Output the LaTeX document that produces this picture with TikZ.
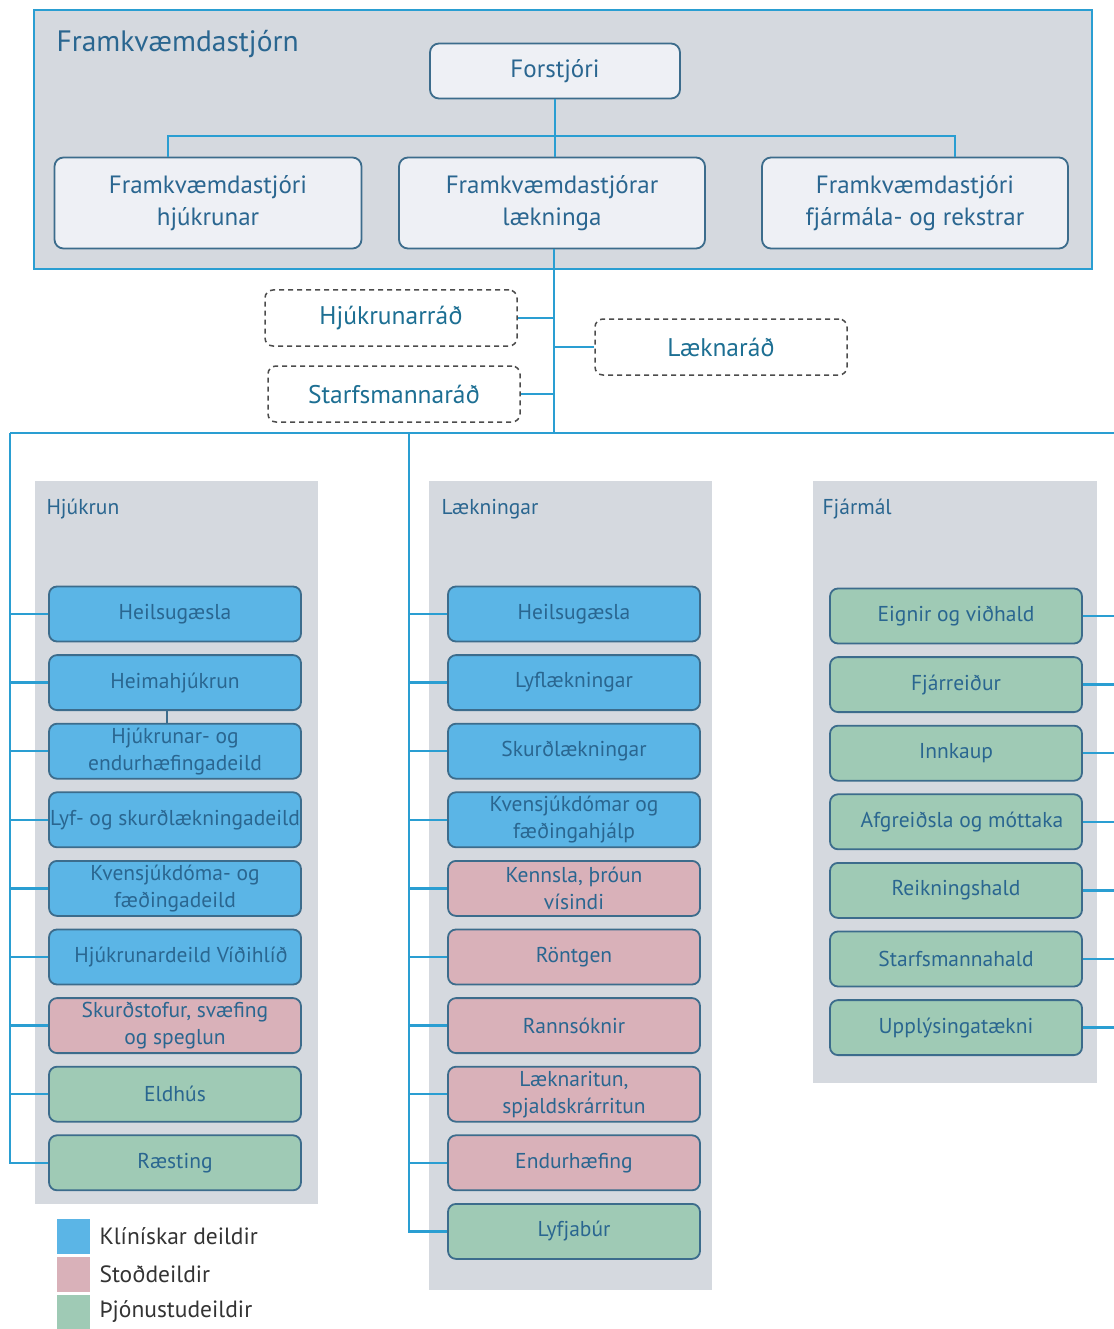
\documentclass[tikz,border=0pt]{standalone}
\usepackage{fontspec}
\setmainfont{PT Sans}
\usetikzlibrary{positioning}
\definecolor{panelgray}{HTML}{D5D9DF}
\definecolor{linecol}{HTML}{2A9ED2}
\definecolor{edgecol}{HTML}{3C6C8C}
\definecolor{txtcol}{HTML}{2A6690}
\definecolor{topfill}{HTML}{EEF0F5}
\definecolor{clin}{HTML}{5BB5E6}
\definecolor{supp}{HTML}{D9B1B9}
\definecolor{serv}{HTML}{9FCAB5}

\begin{document}
\begin{tikzpicture}[x=1pt, y=-1pt, node distance=68.6pt, on grid,
  panel/.style={fill=panelgray, inner sep=0pt, anchor=north west},
  panellbl/.style={anchor=west, text=txtcol, font=\fontsize{21.5}{24}\selectfont},
  topbox/.style={draw=edgecol, line width=1.8pt, fill=topfill, rounded corners=9pt,
    text=txtcol, align=center, inner sep=0pt, font=\fontsize{25}{32}\selectfont},
  council/.style={draw=black!70, dashed, dash pattern=on 5pt off 4pt, line width=1.5pt,
    fill=white, rounded corners=8pt, minimum width=252pt, minimum height=56pt,
    text=linecol!70!black, font=\fontsize{25.5}{28}\selectfont},
  dept/.style={draw=edgecol, line width=1.8pt, rounded corners=8pt, minimum width=252pt,
    minimum height=55pt, inner sep=0pt, align=center, text=txtcol,
    font=\fontsize{21.5}{27}\selectfont},
  conn/.style={draw=linecol, line width=2.4pt},
  key/.style={minimum width=33pt, minimum height=35pt, inner sep=0pt},
  keylbl/.style={anchor=west, text=black!80, font=\fontsize{23.5}{28}\selectfont}]
  \useasboundingbox (0,0) rectangle (1113,1329);

  % Framkvaemdastjorn
  \node[panel, draw=linecol, line width=2.4pt, minimum width=1058pt, minimum height=259pt] (board) at (33,9) {};
  \node[anchor=west, text=txtcol, font=\fontsize{29.5}{34}\selectfont] (boardlbl) at (53,44) {Framkvæmdastjórn};
  \node[topbox, minimum width=250pt, minimum height=55pt] (ceo) at (555,71) {Forstjóri};
  \node[topbox, minimum width=307pt, minimum height=91pt] (nurs) at (208,203) {Framkvæmdastjóri\\hjúkrunar};
  \node[topbox, minimum width=306pt, minimum height=91pt] (med) at (552,203) {Framkvæmdastjórar\\lækninga};
  \node[topbox, minimum width=306pt, minimum height=91pt] (fin) at (915,203) {Framkvæmdastjóri\\fjármála- og rekstrar};
  \coordinate (bar) at (555,136);
  \draw[conn] (ceo.south) -- (ceo.south |- med.north);
  \draw[conn] ([xshift=-40pt]nurs.north) |- (bar) -| ([xshift=40pt]fin.north);

  % Rad
  \coordinate (spine) at (554,433);
  \coordinate (lspine) at (10,433);
  \coordinate (mspine) at (409,433);
  \coordinate (rspine) at (1116,433);
  \node[council] (hr) at (391,318) {Hjúkrunarráð};
  \node[council] (sr) at (394,394) {Starfsmannaráð};
  \node[council] (lr) at (721,347) {Læknaráð};
  \draw[conn] (spine |- med.south) -- (spine);
  \draw[conn] (hr.east) -- (hr.east -| spine);
  \draw[conn] (sr.east) -- (sr.east -| spine);
  \draw[conn] (lr.west) -- (lr.west -| spine);
  \draw[conn] (lspine) -- (rspine);

  % Svid
  \node[panel, minimum width=283pt, minimum height=723pt] (pH) at (35,481) {};
  \node[panel, minimum width=283pt, minimum height=809pt] (pL) at (429,481) {};
  \node[panel, minimum width=284pt, minimum height=602pt] (pF) at (813,481) {};
  \node[panellbl] at (43,509) {Hjúkrun};
  \node[panellbl] at (438,509) {Lækningar};
  \node[panellbl] at (819,509) {Fjármál};

  % Hjukrun
  \node[dept, fill=clin] (h1) at (175,614) {Heilsugæsla};
  \node[dept, fill=clin, below=of h1] (h2) {Heimahjúkrun};
  \node[dept, fill=clin, below=of h2] (h3) {Hjúkrunar- og\\endurhæfingadeild};
  \node[dept, fill=clin, below=of h3] (h4) {Lyf- og skurðlækningadeild};
  \node[dept, fill=clin, below=of h4] (h5) {Kvensjúkdóma- og\\fæðingadeild};
  \node[dept, fill=clin, below=of h5] (h6) {\hspace{12pt}Hjúkrunardeild Víðihlíð};
  \node[dept, fill=supp, below=of h6] (h7) {Skurðstofur, svæfing\\og speglun};
  \node[dept, fill=serv, below=of h7] (h8) {Eldhús};
  \node[dept, fill=serv, below=of h8] (h9) {Ræsting};
  \draw[edgecol, line width=1.8pt] ([xshift=-8pt]h2.south) -- ([xshift=-8pt]h3.north);

  % Laekningar
  \node[dept, fill=clin] (l1) at (574,614) {Heilsugæsla};
  \node[dept, fill=clin, below=of l1] (l2) {Lyflækningar};
  \node[dept, fill=clin, below=of l2] (l3) {Skurðlækningar};
  \node[dept, fill=clin, below=of l3] (l4) {Kvensjúkdómar og\\fæðingahjálp};
  \node[dept, fill=supp, below=of l4] (l5) {Kennsla, þróun\\vísindi};
  \node[dept, fill=supp, below=of l5] (l6) {Röntgen};
  \node[dept, fill=supp, below=of l6] (l7) {Rannsóknir};
  \node[dept, fill=supp, below=of l7] (l8) {Læknaritun,\\spjaldskrárritun};
  \node[dept, fill=supp, below=of l8] (l9) {Endurhæfing};
  \node[dept, fill=serv, below=of l9] (l10) {Lyfjabúr};

  % Fjarmal
  \node[dept, fill=serv] (f1) at (956,616) {Eignir og viðhald};
  \node[dept, fill=serv, below=of f1] (f2) {Fjárreiður};
  \node[dept, fill=serv, below=of f2] (f3) {Innkaup};
  \node[dept, fill=serv, below=of f3] (f4) {\hspace{12pt}Afgreiðsla og móttaka};
  \node[dept, fill=serv, below=of f4] (f5) {Reikningshald};
  \node[dept, fill=serv, below=of f5] (f6) {Starfsmannahald};
  \node[dept, fill=serv, below=of f6] (f7) {Upplýsingatækni};

  % Tengingar
  \draw[conn] (lspine) |- (h9.west);
  \foreach \n in {1,...,8}
    \draw[conn] (h\n.west) -- (lspine |- h\n.west);
  \draw[conn] (mspine) |- (l10.west);
  \foreach \n in {1,...,9}
    \draw[conn] (l\n.west) -- (mspine |- l\n.west);
  \draw[conn] (rspine) |- (f7.east);
  \foreach \n in {1,...,6}
    \draw[conn] (f\n.east) -- (rspine |- f\n.east);

  % Skyring
  \node[key, fill=clin] (k1) at (73.5,1236) {};
  \node[key, fill=supp] (k2) at (73.5,1274) {};
  \node[key, fill=serv] (k3) at (73.5,1312) {};
  \node[keylbl] at (96,1236) {Klínískar deildir};
  \node[keylbl] at (96,1274) {Stoðdeildir};
  \node[keylbl] at (96,1312) {Þjónustudeildir};
\end{tikzpicture}
\end{document}
